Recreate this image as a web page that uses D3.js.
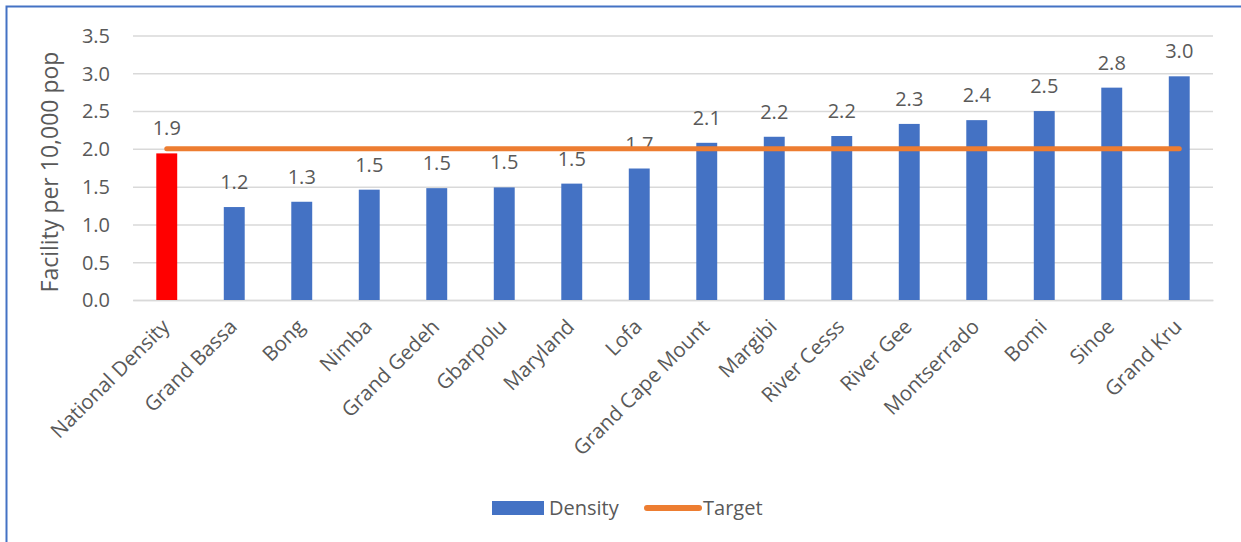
<!DOCTYPE html>
<html>
<head>
<meta charset="utf-8">
<script src="https://cdn.jsdelivr.net/npm/d3@7"></script>
<style>
  html, body { margin: 0; padding: 0; background: #fff; }
  svg { display: block; }
  text { font-family: "Open Sans", sans-serif; fill: #595959; }
</style>
</head>
<body>
<div id="chart"></div>
<script>
// Health facility density by county (facilities per 10,000 population)
const categories = ["National Density", "Grand Bassa", "Bong", "Nimba", "Grand Gedeh", "Gbarpolu",
  "Maryland", "Lofa", "Grand Cape Mount", "Margibi", "River Cesss", "River Gee",
  "Montserrado", "Bomi", "Sinoe", "Grand Kru"];
const density = [1.94, 1.23, 1.30, 1.46, 1.48, 1.49, 1.54, 1.74, 2.08, 2.16, 2.17, 2.33, 2.38, 2.50, 2.81, 2.96];
const target = [2.0, 2.0, 2.0, 2.0, 2.0, 2.0, 2.0, 2.0, 2.0, 2.0, 2.0, 2.0, 2.0, 2.0, 2.0, 2.0];
const yTicks = [0, 0.5, 1.0, 1.5, 2.0, 2.5, 3.0, 3.5];
const seriesNames = ["Density", "Target"];
const yTitle = "Facility per 10,000 pop";

const W = 1241, H = 542;
const plot = { left: 133, right: 1213, top: 35.5, bottom: 300 };
const blue = "#4472C4", orange = "#ED7D31", red = "#FF0000", grid = "#D9D9D9";

const svg = d3.select("#chart").append("svg").attr("width", W).attr("height", H);

// frame edges (top and left)
svg.append("path")
  .attr("d", `M6.5,${H} V6.5 H${W}`)
  .attr("fill", "none").attr("stroke", blue).attr("stroke-width", 2);

const x = d3.scaleBand().domain(categories).range([plot.left, plot.right])
  .paddingInner(0.69).paddingOuter(0.345);
const y = d3.scaleLinear().domain([0, 3.5]).range([plot.bottom, plot.top]);

// horizontal gridlines
const yAxis = d3.axisLeft(y).tickValues(yTicks).tickFormat(d3.format(".1f"))
  .tickSize(-(plot.right - plot.left)).tickPadding(23);
const gy = svg.append("g").attr("transform", `translate(${plot.left},0)`).call(yAxis);
gy.select(".domain").remove();
gy.selectAll(".tick line").attr("stroke", grid).attr("stroke-width", 1.5);
gy.selectAll(".tick text").attr("font-size", 20).attr("fill", "#595959")
  .attr("font-family", "Open Sans, sans-serif").attr("dy", "0.34em");

// category axis labels
const xAxis = d3.axisBottom(x).tickSize(0).tickPadding(0);
const gx = svg.append("g").attr("transform", `translate(0,${plot.bottom})`).call(xAxis);
gx.select(".domain").attr("stroke", grid).attr("stroke-width", 1.5);
gx.selectAll(".tick text")
  .attr("font-size", 20.5).attr("fill", "#595959").attr("font-family", "Open Sans, sans-serif")
  .attr("text-anchor", "end").attr("y", 0).attr("dy", 0)
  .attr("transform", "translate(4,28) rotate(-45)");

// bars
svg.append("g").selectAll("rect").data(density).join("rect")
  .attr("x", (d, i) => x(categories[i]))
  .attr("y", d => y(d))
  .attr("width", x.bandwidth())
  .attr("height", d => y(0) - y(d))
  .attr("fill", (d, i) => i === 0 ? red : blue);

// value labels
svg.append("g").selectAll("text").data(density).join("text")
  .attr("x", (d, i) => x(categories[i]) + x.bandwidth() / 2)
  .attr("y", d => y(d) - 18)
  .attr("text-anchor", "middle").attr("font-size", 20)
  .text(d3.format(".1f"));

// target line
const line = d3.line()
  .x((d, i) => x(categories[i]) + x.bandwidth() / 2)
  .y(d => y(d));
svg.append("path").datum(target)
  .attr("d", line).attr("fill", "none")
  .attr("stroke", orange).attr("stroke-width", 5).attr("stroke-linecap", "round");

// y-axis title
svg.append("text")
  .attr("transform", `translate(58,172) rotate(-90)`)
  .attr("text-anchor", "middle").attr("font-size", 23)
  .text(yTitle);

// legend
const lg = svg.append("g");
lg.append("rect").attr("x", 492).attr("y", 501).attr("width", 52).attr("height", 14).attr("fill", blue);
lg.append("text").attr("x", 549).attr("y", 515).attr("font-size", 20).text(seriesNames[0]);
lg.append("line").attr("x1", 647).attr("x2", 699).attr("y1", 508).attr("y2", 508)
  .attr("stroke", orange).attr("stroke-width", 6).attr("stroke-linecap", "round");
lg.append("text").attr("x", 703).attr("y", 515).attr("font-size", 20).text(seriesNames[1]);
</script>
</body>
</html>
